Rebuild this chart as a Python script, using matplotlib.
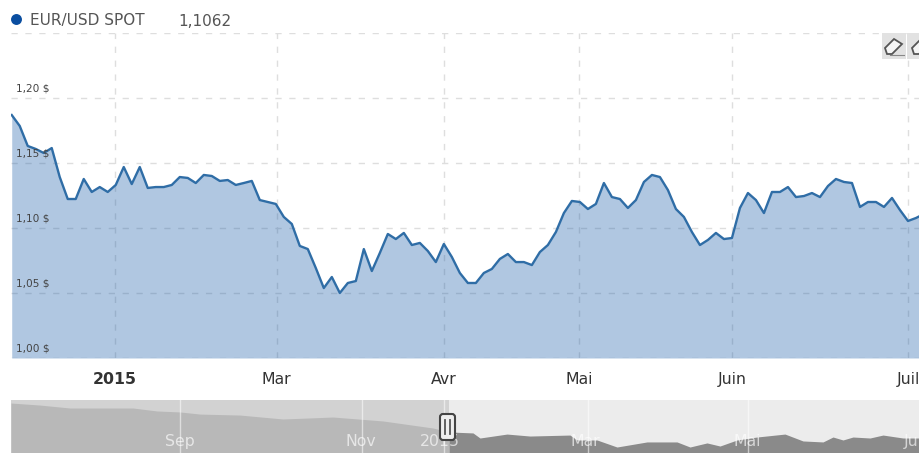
# EUR/USD spot area chart with a navigator strip underneath
import matplotlib
matplotlib.use("Agg")
import matplotlib.pyplot as plt
from matplotlib.patches import FancyBboxPatch, Polygon, Rectangle
from matplotlib.transforms import blended_transform_factory

# Daily closes for the main panel
eurusd = [
    1.1869, 1.1785, 1.1631, 1.1608, 1.1577, 1.1615, 1.1392, 1.1223, 1.1223, 1.1377,
    1.1277, 1.1315, 1.1277, 1.1331, 1.1469, 1.1338, 1.1469, 1.1308, 1.1315, 1.1315,
    1.1331, 1.1392, 1.1385, 1.1346, 1.1408, 1.1400, 1.1362, 1.1369, 1.1331, 1.1346,
    1.1362, 1.1215, 1.1200, 1.1185, 1.1085, 1.1031, 1.0862, 1.0838, 1.0692, 1.0538,
    1.0623, 1.0500, 1.0577, 1.0592, 1.0838, 1.0669, 1.0808, 1.0954, 1.0915, 1.0962,
    1.0869, 1.0885, 1.0823, 1.0738, 1.0877, 1.0777, 1.0654, 1.0577, 1.0577, 1.0654,
    1.0685, 1.0762, 1.0800, 1.0738, 1.0738, 1.0715, 1.0815, 1.0869, 1.0969, 1.1115,
    1.1208, 1.1200, 1.1146, 1.1185, 1.1346, 1.1238, 1.1223, 1.1154, 1.1215, 1.1354,
    1.1408, 1.1392, 1.1292, 1.1146, 1.1085, 1.0969, 1.0869, 1.0908, 1.0962, 1.0915,
    1.0923, 1.1154, 1.1269, 1.1215, 1.1115, 1.1277, 1.1277, 1.1315, 1.1238, 1.1246,
    1.1269, 1.1238, 1.1323, 1.1377, 1.1354, 1.1346, 1.1162, 1.1200, 1.1200, 1.1162,
    1.1231, 1.1138, 1.1054, 1.1077, 1.1108,
]
month_sessions = [12.9, 33.1, 54.0, 70.9, 90.0, 112.0]
month_labels = ["2015", "Mar", "Avr", "Mai", "Juin", "Juil"]
price_ticks = [1.00, 1.05, 1.10, 1.15, 1.20, 1.25]
price_labels = ["1,00 $", "1,05 $", "1,10 $", "1,15 $", "1,20 $"]

# Navigator history, before and inside the selected range
nav_past_x = [11, 40, 70, 133, 157, 180, 200, 240, 283, 333, 383, 433, 449]
nav_past = [1.3695, 1.355, 1.334, 1.334, 1.313, 1.306, 1.291, 1.284, 1.256, 1.270, 1.242, 1.192, 1.164]
nav_now_x = [449, 473, 480, 507, 530, 570, 577, 597, 617, 647, 677, 690, 707, 720, 737,
             757, 785, 803, 823, 833, 843, 853, 870, 883, 903, 920]
nav_now = [1.164, 1.157, 1.121, 1.149, 1.135, 1.142, 1.107, 1.107, 1.057, 1.093, 1.093, 1.057, 1.086, 1.064, 1.107,
           1.128, 1.149, 1.100, 1.093, 1.128, 1.107, 1.128, 1.121, 1.142, 1.121, 1.121]
nav_ticks = [180, 362, 444, 588, 748]
nav_label_x = [180, 361, 440, 585, 747, 911]
nav_labels = ["Sep", "Nov", "2015", "Mar", "Mai", "Ju"]

W, H = 920, 453
fig = plt.figure(figsize=(W / 100, H / 100), dpi=100, facecolor="white")


def fx(x):
    return x / W


def fy(y):
    return 1 - y / H


# Main panel
ax = fig.add_axes([fx(11), fy(358), 909 / W, 325 / H])
sessions = list(range(len(eurusd)))
ax.set_xlim(-0.09, 113.5)
ax.set_ylim(1.00, 1.25)
ax.fill_between(sessions, eurusd, 1.00, color="#0b52a3", alpha=0.32, linewidth=0, zorder=2)
ax.plot(sessions, eurusd, color="#2f6da6", linewidth=1.7, solid_joinstyle="round", zorder=3)
ax.set_xticks(month_sessions)
ax.set_xticklabels(month_labels, fontsize=11.3, color="#333333", family="DejaVu Sans")
ax.get_xticklabels()[0].set_fontweight("bold")
ax.set_yticks(price_ticks)
ax.set_yticklabels([])
ax.tick_params(length=0, pad=10)
ax.grid(True, color="#dedede", linewidth=1, linestyle=(0, (4.5, 5.5)), zorder=1)
for side in ax.spines.values():
    side.set_visible(False)

# Price labels sit inside the plot, just above their gridline
label_trans = blended_transform_factory(fig.transFigure, ax.transData)
for tick, text in zip(price_ticks, price_labels):
    ax.text(fx(16), tick + 0.0038, text, transform=label_trans, fontsize=7.6, color="#444444",
            family="DejaVu Sans", va="bottom", ha="left", zorder=4)

# Navigator strip
nav = fig.add_axes([fx(11), 0, 909 / W, 53 / H])
nav.set_xlim(11, 920)
nav.set_ylim(1.0145, 1.391)
nav.axis("off")
nav.axvspan(11, 449, color="#d2d2d2", linewidth=0, zorder=0)
nav.axvspan(449, 920, color="#ececec", linewidth=0, zorder=0)
nav.fill_between(nav_past_x, nav_past, 1.0, color="#b8b8b8", linewidth=0, zorder=1)
nav.fill_between(nav_now_x, nav_now, 1.0, color="#8a8a8a", linewidth=0, zorder=1)
for pos in nav_ticks:
    nav.axvline(pos, color="white", alpha=0.55, linewidth=1, zorder=2)
for pos, text in zip(nav_label_x, nav_labels):
    nav.text(pos, 1.093, text, fontsize=11.3, color="white", alpha=0.65, ha="center", va="center", zorder=3)

# Overlay in pixel coordinates for the legend row, buttons and range handle
overlay = fig.add_axes([0, 0, 1, 1], xlim=(0, W), ylim=(H, 0), facecolor="none")
overlay.axis("off")
overlay.set_zorder(5)
overlay.scatter([16], [19], s=62, color="#0a4ea0", linewidths=0)
overlay.text(30, 21, "EUR/USD SPOT", fontsize=11, color="#555555", family="DejaVu Sans", va="center")
overlay.text(178, 21, "1,1062", fontsize=11, color="#555555", family="DejaVu Sans", va="center")

for left, width in [(882, 24), (907, 13)]:
    overlay.add_patch(Rectangle((left, 33), width, 26, color="#e2e2e2", linewidth=0))
for shift in [0, 27]:
    overlay.add_patch(Polygon([(885 + shift, 48), (894 + shift, 39), (902 + shift, 44), (892 + shift, 54), (887 + shift, 54)],
                              closed=True, facecolor="#f5f5f5", edgecolor="#555555", linewidth=1.3))
overlay.plot([890, 904], [55, 55], color="#888888", linewidth=0.8)

overlay.add_patch(FancyBboxPatch((440, 414), 15, 26, boxstyle="round,pad=0,rounding_size=3",
                                 facecolor="#eeeeee", edgecolor="#444444", linewidth=1.5, zorder=5))
overlay.plot([445.5, 445.5], [420, 434], color="#555555", linewidth=1.3, zorder=6)
overlay.plot([450.5, 450.5], [420, 434], color="#555555", linewidth=1.3, zorder=6)

fig.savefig("out.png", dpi=100)
